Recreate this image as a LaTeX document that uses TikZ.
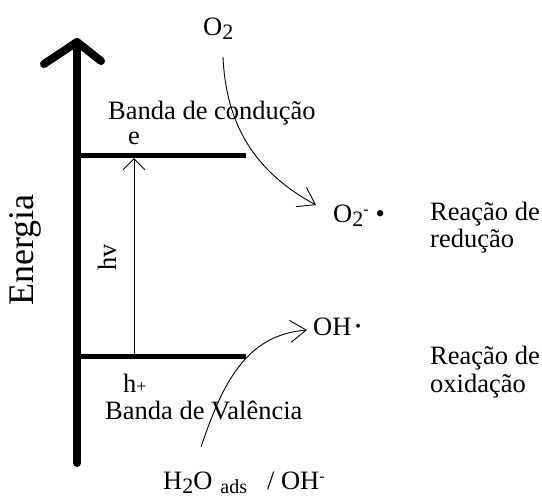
\documentclass[tikz,border=0pt]{standalone}
\usepackage{fontspec}
\setmainfont{Liberation Serif}
\usetikzlibrary{arrows.meta}
\begin{document}
\begin{tikzpicture}[x=1pt,y=-1pt,
  txt/.style={inner sep=0pt, font=\fontsize{26.5}{28}\selectfont},
  band/.style={line width=5pt},
  axisline/.style={line width=8pt, line cap=round, line join=round},
  thinline/.style={line width=0.9pt},
  barbtip/.style={-{Straight Barb[length=11pt,width=22pt,line width=0.9pt]}},
  curvetip/.style={-{Straight Barb[length=16pt,width=22pt,line width=0.9pt]}}
]
\useasboundingbox (0,0) rectangle (542,498);

% energy axis
\coordinate (axbot) at (77,463);
\coordinate (axtop) at (77,42);
\coordinate (axl) at (44,64);
\coordinate (axr) at (101,61);
\draw[axisline] (axbot) -- (axtop);
\draw[axisline] (axl) -- (axtop) -- (axr);
\node[inner sep=0pt, font=\fontsize{36}{36}\selectfont, rotate=90] (energia) at (25,250) {Energia};

% bands
\coordinate (cbL) at (77,155);
\coordinate (cbR) at (246,155);
\coordinate (vbL) at (77,356);
\coordinate (vbR) at (246,356);
\draw[band] (cbL) -- (cbR);
\draw[band] (vbL) -- (vbR);

\node[txt, anchor=base west] (bc) at (108,119) {Banda de condução};
\node[txt, anchor=base west] (e) at (128,144) {e};
\node[txt, anchor=base west] (hplus) at (123,392) {h{\fontsize{18}{18}\selectfont +}};
\node[txt, anchor=base west] (bv) at (105,419) {Banda de Valência};

% excitation
\coordinate (hvbot) at (134,356);
\coordinate (hvtop) at (134,158);
\draw[thinline, barbtip] (hvbot) -- (hvtop);
\node[txt, rotate=90] (hv) at (107,257) {hv};

% reduction
\node[txt, anchor=base west] (o2top) at (203,35) {O\raisebox{-4pt}{\fontsize{22}{22}\selectfont 2}};
\node[txt, anchor=base west] (o2rad) at (333,222) {O\raisebox{-4pt}{\fontsize{22}{22}\selectfont 2}\raisebox{8pt}{\fontsize{16}{16}\selectfont -}\hspace{7pt}•};
\coordinate (redS) at (223,57);
\coordinate (redE) at (316,205);
\draw[thinline, curvetip] (redS) .. controls (226,125) and (255,172) .. (redE);
\node[txt, anchor=base west] (red1) at (430,220) {Reação de};
\node[txt, anchor=base west] (red2) at (430,247) {redução};

% oxidation
\node[txt, anchor=base west] (ohrad) at (313,335) {OH\hspace{4pt}\raisebox{4pt}{\fontsize{16}{16}\selectfont •}};
\node[txt, anchor=base west] (h2o) at (163,489) {H\raisebox{-4pt}{\fontsize{22}{22}\selectfont 2}O\hspace{8pt}\raisebox{-4pt}{\fontsize{20}{20}\selectfont ads}\hspace{20pt}/ OH\raisebox{8pt}{\fontsize{16}{16}\selectfont -}};
\coordinate (oxS) at (201,447);
\coordinate (oxE) at (307,330);
\draw[thinline, curvetip] (oxS) .. controls (222,385) and (245,335) .. (oxE);
\node[txt, anchor=base west] (ox1) at (430,364) {Reação de};
\node[txt, anchor=base west] (ox2) at (430,392) {oxidação};
\end{tikzpicture}
\end{document}
